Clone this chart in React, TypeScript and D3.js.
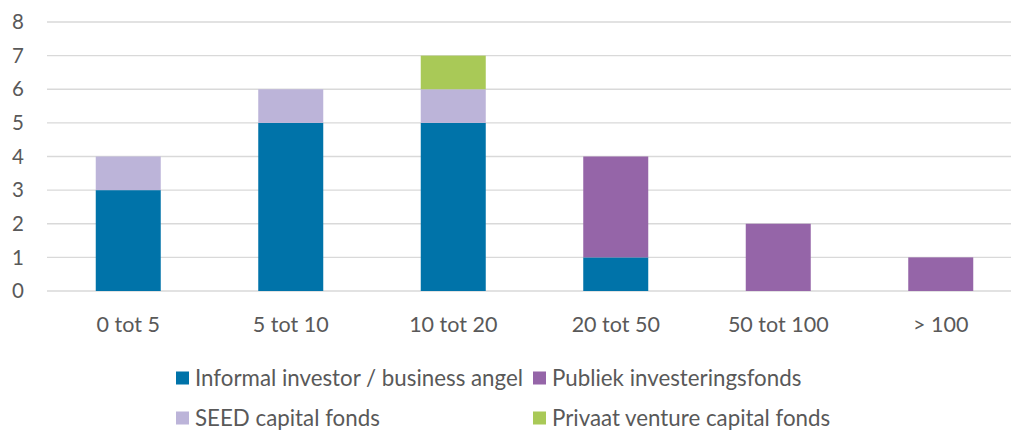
import React from 'react';
import * as d3 from 'd3';

// categories (investment size) and series counts
const categories = ['0 tot 5', '5 tot 10', '10 tot 20', '20 tot 50', '50 tot 100', '> 100'];
const informal = [3, 5, 5, 1, 0, 0];
const publiek = [0, 0, 0, 3, 2, 1];
const seed = [1, 1, 1, 0, 0, 0];
const privaat = [0, 0, 1, 0, 0, 0];
const yTicks = [0, 1, 2, 3, 4, 5, 6, 7, 8];

const seriesNames = [
  'Informal investor / business angel',
  'Publiek investeringsfonds',
  'SEED capital fonds',
  'Privaat venture capital fonds',
];
const seriesKeys = ['informal', 'publiek', 'seed', 'privaat'];
const colors = ['#0073A9', '#9565A8', '#BCB4D9', '#A9C957'];

const App = () => {
  const width = 1011;
  const height = 430;
  const margin = { top: 22, left: 47, right: -11, bottom: 139 };

  const rows = categories.map((c, i) => ({
    cat: c,
    informal: informal[i],
    publiek: publiek[i],
    seed: seed[i],
    privaat: privaat[i],
  }));

  const stack = d3.stack<any>().keys(seriesKeys);
  const stacked = stack(rows);

  const xScale = d3.scaleBand()
    .domain(categories)
    .range([margin.left, width - margin.right])
    .paddingInner(0.6)
    .paddingOuter(0.3);

  const yScale = d3.scaleLinear()
    .domain([0, 8])
    .range([height - margin.bottom, margin.top]);

  const font = 'Lato, "Open Sans", sans-serif';
  const textColor = '#595959';

  // legend layout: two columns, two rows
  const legendCols = [176, 533];
  const legendRows = [378, 418];

  return (
    <svg width={width} height={height} style={{ position: 'absolute', left: 0, top: 0 }}>
      <rect width={width} height={height} fill="#fff" />
      {yTicks.map(t => (
        <g key={t}>
          <line x1={margin.left} x2={width} y1={yScale(t)} y2={yScale(t)}
            stroke="#D9D9D9" strokeWidth={1.3} />
          <text x={24} y={yScale(t)} dy="0.35em" textAnchor="end"
            fontFamily={font} fontSize={20.5} fill={textColor}>{t}</text>
        </g>
      ))}
      {stacked.map((s, si) => (
        <g key={s.key} fill={colors[si]}>
          {s.map((d, i) => d[1] - d[0] > 0 ? (
            <rect key={i}
              x={xScale(categories[i])}
              y={yScale(d[1])}
              width={xScale.bandwidth()}
              height={yScale(d[0]) - yScale(d[1])} />
          ) : null)}
        </g>
      ))}
      {categories.map(c => (
        <text key={c} x={(xScale(c) as number) + xScale.bandwidth() / 2} y={324} dy="0.35em"
          textAnchor="middle" fontFamily={font} fontSize={21.5} fill={textColor}>{c}</text>
      ))}
      {seriesNames.map((n, i) => {
        const lx = legendCols[i % 2];
        const ly = legendRows[Math.floor(i / 2)];
        return (
          <g key={n}>
            <rect x={lx} y={ly - 6.5} width={13} height={13} fill={colors[i]} />
            <text x={lx + 19} y={ly} dy="0.35em" fontFamily={font} fontSize={22.3}
              fill={textColor}>{n}</text>
          </g>
        );
      })}
    </svg>
  );
};

export default App;
